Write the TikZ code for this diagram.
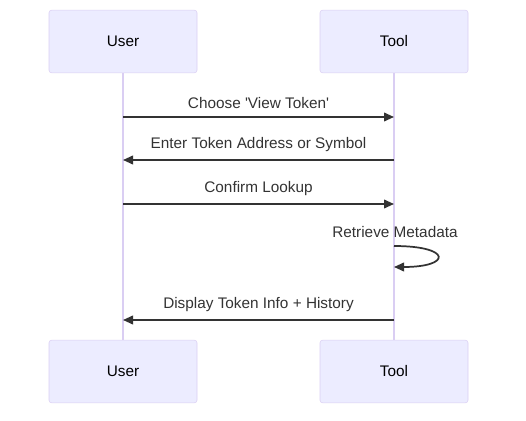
\documentclass[tikz,border=0pt]{standalone}
\usepackage{fontspec}
\setmainfont{Liberation Sans}
\usetikzlibrary{arrows.meta,positioning}
\definecolor{actorfill}{HTML}{ECECFF}
\definecolor{actorline}{HTML}{DACEF3}
\definecolor{msgline}{HTML}{333333}

\begin{document}
\begin{tikzpicture}[x=0.75pt,y=-0.75pt,
        actor/.style = {draw=actorline, fill=actorfill, rounded corners=2pt,
                        minimum width=111pt, minimum height=47pt, font=\fontsize{11.5}{13}\selectfont},
        life/.style = {draw=actorline, line width=1.1pt},
        msg/.style = {draw=msgline, line width=1.3pt, -{Triangle[length=7.5pt,width=6.5pt]}},
        msglabel/.style = {font=\fontsize{11.5}{13}\selectfont, text=msgline}]

        \useasboundingbox (0,0) rectangle (526,421);

        \node[actor] (usertop) at (123,41.5) {User};
        \node[actor] (tooltop) at (394,41.5) {Tool};
        \node[actor] (userbot) at (123,371.5) {User};
        \node[actor] (toolbot) at (394,371.5) {Tool};

        \draw[life] (usertop) -- (userbot);
        \draw[life] (tooltop) -- (toolbot);

        \coordinate (u1) at (123,117);
        \coordinate (t1) at (394,117);
        \coordinate (u2) at (123,160);
        \coordinate (t2) at (394,160);
        \coordinate (u3) at (123,204);
        \coordinate (t3) at (394,204);
        \coordinate (t4a) at (394,246);
        \coordinate (t4b) at (394,267);
        \coordinate (u5) at (123,320);
        \coordinate (t5) at (394,320);

        \draw[msg] (u1) -- node[msglabel, above=2pt] {Choose \textquotesingle View Token\textquotesingle} (t1);
        \draw[msg] (t2) -- node[msglabel, above=2pt] {Enter Token Address or Symbol} (u2);
        \draw[msg] (u3) -- node[msglabel, above=2pt] {Confirm Lookup} (t3);
        \draw[msg] (t4a) .. controls (452,246) and (452,267) .. (t4b);
        \node[msglabel] (selflabel) at (395,232) {Retrieve Metadata};
        \draw[msg] (t5) -- node[msglabel, above=2pt] {Display Token Info + History} (u5);

\end{tikzpicture}
\end{document}
